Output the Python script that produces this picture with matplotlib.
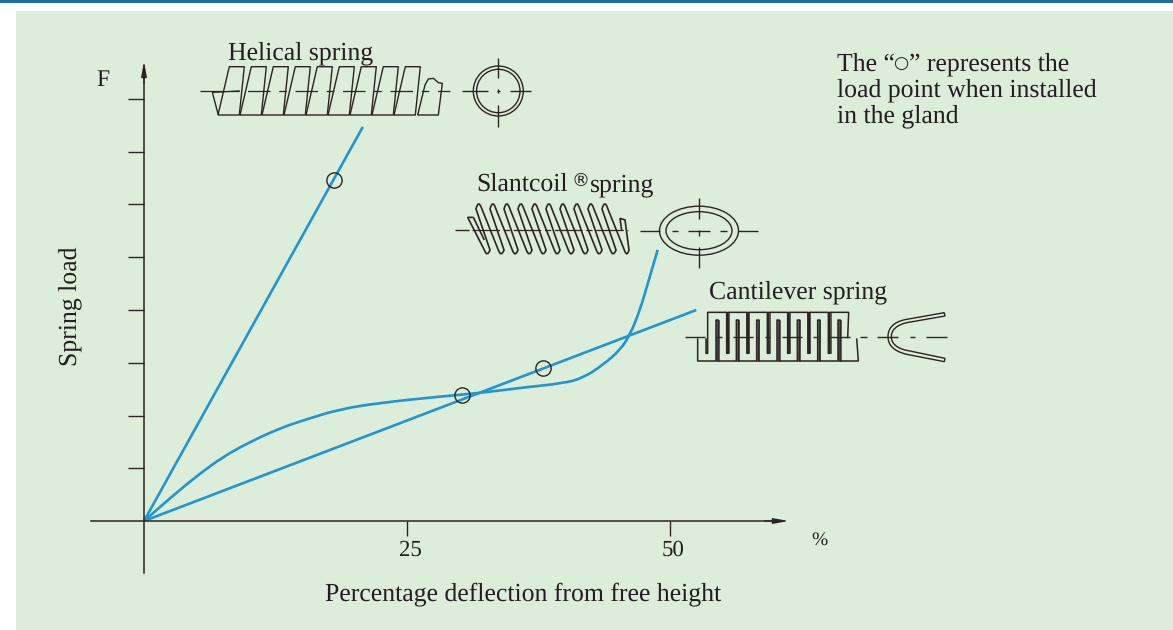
import matplotlib
matplotlib.use("Agg")
import matplotlib.pyplot as plt
from matplotlib.patches import Rectangle, Ellipse, Circle, PathPatch
from matplotlib.path import Path
from matplotlib.transforms import ScaledTranslation

# values: % deflection, load in tick units
helical_x = [0, 20.8]
helical_y = [0, 7.47]
cantilever_x = [0, 52.5]
cantilever_y = [0, 4.0]
slantcoil_x = [0, 2.79, 5.32, 7.54, 10.08, 12.93, 15.47, 18.63, 22.43, 28.14, 31.63,
               36.03, 39.83, 41.73, 43.63, 45.25, 46.2, 47.15, 47.9, 48.83]
slantcoil_y = [0, 0.49, 0.90, 1.22, 1.50, 1.76, 1.93, 2.12, 2.24, 2.36, 2.42,
               2.53, 2.61, 2.71, 2.96, 3.24, 3.53, 4.0, 4.51, 5.14]
installed_x = [18.06, 30.23, 37.9]
installed_y = [6.46, 2.39, 2.90]
x_ticks = [25, 50]
x_tick_labels = ["25", "50"]
y_ticks = [1, 2, 3, 4, 5, 6, 7, 8]

W, H = 1173, 630
X0, Y0 = 144, 521
PX_X = 10.52
PX_Y = 52.75
BLUE = "#1f95d3"
INK = "#2a2522"
GREEN = "#dcedd9"
SERIF = ["Liberation Serif", "DejaVu Sans"]
FS = 18.5

plt.rcParams["text.hinting"] = "none"
fig = plt.figure(figsize=(W / 100, H / 100), dpi=100, facecolor="white")

# pixel layer for the panel, the labels and the spring sketches
bg = fig.add_axes([0, 0, 1, 1])
bg.set_xlim(0, W)
bg.set_ylim(H, 0)
bg.axis("off")
bg.add_patch(Rectangle((0, 0), W, 3, fc="#1a6bb0", ec="none"))
bg.add_patch(Rectangle((16, 11), W - 16, H - 11, fc=GREEN, ec="none"))


def line(xs, ys, lw=1.0, ls="-"):
    bg.plot(xs, ys, color=INK, lw=lw, ls=ls, solid_capstyle="butt", dash_capstyle="butt")


def label(x, y, s, size=FS, **kw):
    bg.text(x, y, s, fontsize=size, family=SERIF, color="#231f20", va="baseline", **kw)


# helical spring
hx = lambda z: 190 + z / 3
hy = lambda z: 30 + z / 3
line([200, 450], [91, 91], 0.9, (0, (18, 7, 6, 7)))
for i in range(9):
    d = 22 * i
    line([218 + d, 229.3 + d, 244.3 + d, 239.3 + d, 218 + d], [115, 66.7, 66.7, 115, 115], 1.0)
line([hx(67), hx(85)], [hy(187), hy(255)])
line([hx(67), hx(150)], [hy(187), hy(183)])
line([hx(683), hx(745), hx(757), hx(745), hx(730), hx(715), hx(705), hx(683)],
     [hy(255), hy(255), hy(160), hy(158), hy(145), hy(147), hy(165), hy(255)])
bg.add_patch(Circle((498.3, 91), 25, fc="none", ec=INK, lw=1.0))
bg.add_patch(Circle((498.3, 91), 21.7, fc="none", ec=INK, lw=1.0))
line([462, 488], [91, 91])
line([497, 500], [91, 91])
line([510, 531], [91, 91])
line([498.3, 498.3], [58, 78])
line([498.3, 498.3], [89, 93])
line([498.3, 498.3], [105, 127])

# slantcoil spring
sx = lambda z: 445 + z / 3
sy = lambda z: 165 + z / 3
line([sx(30), sx(72)], [230, 230])
line([sx(80), sx(550)], [230, 230], 0.9, (0, (22, 3, 5, 3)))
verts = [(sx(85), sy(157)), (sx(68), sy(157)), (sx(118), sy(255)), (sx(126), sy(278)), (sx(135), sy(255)),
         (sx(93), sy(132)), (sx(100), sy(102)), (sx(110), sy(130))]
codes = [Path.MOVETO, Path.LINETO, Path.LINETO, Path.CURVE3, Path.CURVE3, Path.LINETO, Path.CURVE3, Path.CURVE3]
for i in range(9):
    d = 42 * i
    verts += [(sx(160 + d), sy(255)), (sx(168 + d), sy(278)), (sx(177 + d), sy(255)),
              (sx(135 + d), sy(132)), (sx(143 + d), sy(102)), (sx(152 + d), sy(130))]
    codes += [Path.LINETO, Path.CURVE3, Path.CURVE3, Path.LINETO, Path.CURVE3, Path.CURVE3]
verts += [(sx(538), sy(255)), (sx(546), sy(278)), (sx(552), sy(255)), (sx(540), sy(165)), (sx(525), sy(160)),
          (sx(530), sy(195))]
codes += [Path.LINETO, Path.CURVE3, Path.CURVE3, Path.LINETO, Path.LINETO, Path.LINETO]
bg.add_patch(PathPatch(Path(verts, codes), fc="none", ec=INK, lw=1.2))
line([sx(85), sx(118)], [sy(157), sy(225)], 1.2)
bg.add_patch(Ellipse((699, 230.7), 79, 49, fc="none", ec=INK, lw=1.0))
bg.add_patch(Ellipse((699, 230.7), 66, 38, fc="none", ec=INK, lw=1.0))
line([sx(585), sx(645)], [230.7, 230.7])
line([sx(880), sx(938)], [230.7, 230.7])
line([sx(680), sx(700)], [230.7, 230.7])
line([sx(730), sx(795)], [230.7, 230.7])
line([sx(825), sx(845)], [230.7, 230.7])
line([sx(762), sx(762)], [sy(100), sy(162)])
line([sx(762), sx(762)], [sy(195), sy(212)])
line([sx(762), sx(762)], [sy(245), sy(308)])

# cantilever spring
cx = lambda z: 680 + z / 3
cy = lambda z: 275 + z / 3
lower_x, lower_y = [cx(53)], [cy(190)]
for i in range(8):
    d = 61 * i
    lower_x += [cx(53 + d), cx(108 + d)]
    lower_y += [cy(258), cy(258)]
    if i < 7:
        lower_x += [cx(108 + d), cx(115 + d)]
        lower_y += [cy(135), cy(135)]
lower_x += [cx(530)]
lower_y += [cy(190)]
line(lower_x, lower_y, 1.1)
upper_x, upper_y = [cx(78), cx(78), cx(83)], [cy(190), cy(235), cy(235)]
for i in range(7):
    d = 61 * i
    upper_x += [cx(83 + d), cx(140 + d)]
    upper_y += [cy(112), cy(112)]
    if i < 6:
        upper_x += [cx(140 + d), cx(145 + d)]
        upper_y += [cy(235), cy(235)]
upper_x += [cx(503)]
upper_y += [cy(190)]
line(upper_x, upper_y, 1.1)
for i in range(7):
    d = 61 * i
    bg.add_patch(Rectangle((cx(108 + d) - 0.4, cy(135)), 3.2, cy(258) - cy(135), fc="#7a756c", ec=INK, lw=0.4))
    if i < 6:
        bg.add_patch(Rectangle((cx(140 + d) - 0.6, cy(112)), 3.0, cy(235) - cy(112), fc="#7a756c", ec=INK, lw=0.4))
line([cx(15), cx(75)], [cy(185), cy(185)])
line([cx(110), cx(125)], [cy(185), cy(185)])
line([cx(160), cx(220)], [cy(185), cy(185)])
line([cx(255), cx(270)], [cy(185), cy(185)])
line([cx(305), cx(365)], [cy(185), cy(185)])
line([cx(400), cx(415)], [cy(185), cy(185)])
line([cx(450), cx(510)], [cy(185), cy(185)])
line([cx(540), cx(560)], [cy(185), cy(185)])
line([cx(592), cx(655)], [cy(185), cy(185)])
line([cx(690), cx(705)], [cy(185), cy(185)])
line([cx(738), cx(800)], [cy(185), cy(185)])
u_verts = [(cx(793), cy(113)), (cx(680), cy(133)), (cx(640), cy(140)), (cx(624), cy(160)), (cx(624), cy(185)),
           (cx(624), cy(210)), (cx(640), cy(228)), (cx(680), cy(238)), (cx(793), cy(260)), (cx(795), cy(250)),
           (cx(680), cy(226)), (cx(650), cy(220)), (cx(634), cy(205)), (cx(634), cy(185)), (cx(634), cy(165)),
           (cx(650), cy(150)), (cx(680), cy(143)), (cx(795), cy(123)), (cx(793), cy(113))]
u_codes = [Path.MOVETO, Path.LINETO, Path.CURVE4, Path.CURVE4, Path.CURVE4, Path.CURVE4, Path.CURVE4, Path.CURVE4,
           Path.LINETO, Path.LINETO, Path.LINETO, Path.CURVE4, Path.CURVE4, Path.CURVE4, Path.CURVE4, Path.CURVE4,
           Path.CURVE4, Path.LINETO, Path.LINETO]
bg.add_patch(PathPatch(Path(u_verts, u_codes), fc="none", ec=INK, lw=1.0))

label(228, 59.5, "Helical spring")
label(476, 191, "Slantcoil")
bg.text(572, 186, "®", fontsize=13, family=["DejaVu Sans"], color="#231f20", va="baseline")
label(590, 191, "spring")
label(709, 298.5, "Cantilever spring")
label(837, 70.5, "The “")
bg.text(901, 69, "○", fontsize=12.5, family=["DejaVu Sans"], color="#231f20", ha="center", va="baseline")
label(1069, 70.5, "” represents the", ha="right")
label(837, 96.5, "load point when installed")
label(837, 122.5, "in the gland")
label(96, 85.5, "F", size=17)
label(819, 545, "%", size=14, ha="center")
label(523, 600.5, "Percentage deflection from free height", ha="center")
bg.text(70, 306, "Spring load", fontsize=FS, family=SERIF, color="#231f20", rotation=90, ha="center", va="center")

# the chart itself
ax = fig.add_axes([0, 0, 1, 1], facecolor="none")
ax.set_xlim(-X0 / PX_X, (W - X0) / PX_X)
ax.set_ylim((Y0 - H) / PX_Y, Y0 / PX_Y)
for side in ["top", "right"]:
    ax.spines[side].set_visible(False)
for side in ["left", "bottom"]:
    ax.spines[side].set_position(("data", 0))
    ax.spines[side].set_color(INK)
    ax.spines[side].set_linewidth(1.1)
ax.spines["left"].set_bounds(-0.986, 8.4)
ax.spines["bottom"].set_bounds(-5.04, 60)
ax.set_xticks(x_ticks)
ax.set_xticklabels(x_tick_labels, family=SERIF, fontsize=16.5, color="#231f20")
ax.set_yticks(y_ticks)
ax.set_yticklabels([])
ax.tick_params(axis="x", direction="out", length=11, width=1.0, color=INK, pad=2.5)
ax.tick_params(axis="y", direction="out", length=11.5, width=1.0, color=INK)
shift = ScaledTranslation(3.5 / 100, 0, fig.dpi_scale_trans)
for tick in ax.get_xticklabels():
    tick.set_transform(tick.get_transform() + shift)
ax.annotate("", xy=(61.3, 0), xytext=(59, 0),
            arrowprops=dict(arrowstyle="-|>,head_length=0.9,head_width=0.16", color=INK, lw=1, shrinkA=0, shrinkB=0))
ax.annotate("", xy=(0, 8.72), xytext=(0, 8.3),
            arrowprops=dict(arrowstyle="-|>,head_length=0.9,head_width=0.16", color=INK, lw=1, shrinkA=0, shrinkB=0))

ax.plot(helical_x, helical_y, color=BLUE, lw=1.9, solid_capstyle="butt")
ax.plot(cantilever_x, cantilever_y, color=BLUE, lw=1.9, solid_capstyle="butt")

# slantcoil curve: quadratic segments through the midpoints so it stays smooth
pts = list(zip(slantcoil_x, slantcoil_y))
curve_v = [pts[0]]
curve_c = [Path.MOVETO]
for a, b in zip(pts[1:-1], pts[2:]):
    curve_v += [a, ((a[0] + b[0]) / 2, (a[1] + b[1]) / 2)]
    curve_c += [Path.CURVE3, Path.CURVE3]
curve_v.append(pts[-1])
curve_c.append(Path.LINETO)
ax.add_patch(PathPatch(Path(curve_v, curve_c), fc="none", ec=BLUE, lw=1.9, capstyle="butt"))

ax.plot(installed_x, installed_y, ls="none", marker="o", ms=11, mfc="none", mec=INK, mew=1.0)

fig.savefig("out.png", dpi=100)
